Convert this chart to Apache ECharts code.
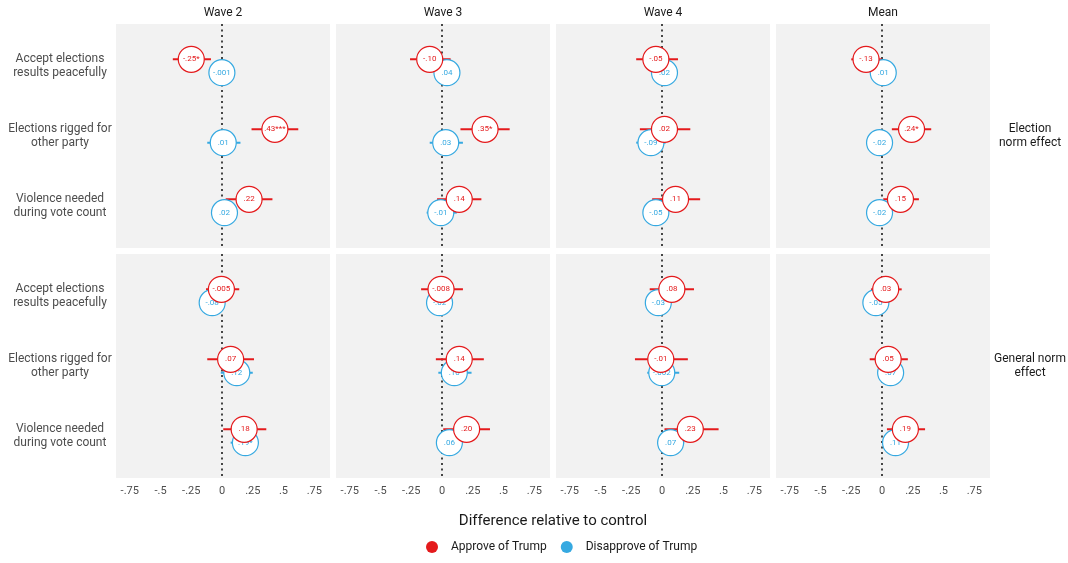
<!DOCTYPE html>
<html>
<head>
<meta charset="utf-8">
<script src="https://cdn.jsdelivr.net/npm/echarts@6/dist/echarts.min.js"></script>
<style>
  html, body { margin: 0; padding: 0; background: #fff; }
  #chart { width: 1068px; height: 563px; }
</style>
</head>
<body>
<div id="chart"></div>
<script>
// panels: columns = waves, rows = norm effect
const waves = ['Wave 2', 'Wave 3', 'Wave 4', 'Mean']
const effects = ['Election\nnorm effect', 'General norm\neffect']
const items = ['Accept elections\nresults peacefully', 'Elections rigged for\nother party', 'Violence needed\nduring vote count']
const groups = ['Approve of Trump', 'Disapprove of Trump']
const xTicks = [-0.75, -0.5, -0.25, 0, 0.25, 0.5, 0.75]
const xTickLabels = ['-.75', '-.5', '-.25', '0', '.25', '.5', '.75']

// [wave][item] = [estimate, ci low, ci high, label]
const electionApprove = [
  [[-0.25, -0.40, -0.09, '-.25*'], [0.43, 0.24, 0.62, '.43***'], [0.22, 0.03, 0.41, '.22']],
  [[-0.10, -0.26, 0.07, '-.10'], [0.35, 0.15, 0.55, '.35*'], [0.14, -0.04, 0.32, '.14']],
  [[-0.05, -0.21, 0.13, '-.05'], [0.02, -0.18, 0.23, '.02'], [0.11, -0.08, 0.31, '.11']],
  [[-0.13, -0.25, 0.00, '-.13'], [0.24, 0.08, 0.40, '.24*'], [0.15, 0.01, 0.30, '.15']],
]
const electionDisapprove = [
  [[-0.001, -0.08, 0.08, '-.001'], [0.01, -0.12, 0.15, '.01'], [0.02, -0.07, 0.11, '.02']],
  [[0.04, -0.05, 0.13, '.04'], [0.03, -0.10, 0.17, '.03'], [-0.01, -0.125, 0.12, '-.01']],
  [[0.02, -0.07, 0.11, '.02'], [-0.09, -0.21, 0.03, '-.09'], [-0.05, -0.15, 0.05, '-.05']],
  [[0.01, -0.07, 0.09, '.01'], [-0.02, -0.125, 0.08, '-.02'], [-0.02, -0.10, 0.06, '-.02']],
]
const generalApprove = [
  [[-0.005, -0.13, 0.14, '-.005'], [0.07, -0.12, 0.26, '.07'], [0.18, 0.01, 0.36, '.18']],
  [[-0.008, -0.17, 0.17, '-.008'], [0.14, -0.05, 0.34, '.14'], [0.20, 0.01, 0.39, '.20']],
  [[0.08, -0.10, 0.26, '.08'], [-0.01, -0.22, 0.21, '-.01'], [0.23, 0.02, 0.46, '.23']],
  [[0.03, -0.09, 0.16, '.03'], [0.05, -0.10, 0.21, '.05'], [0.19, 0.04, 0.35, '.19']],
]
const generalDisapprove = [
  [[-0.08, -0.16, 0.00, '-.08'], [0.12, -0.01, 0.25, '.12'], [0.19, 0.07, 0.30, '.19*']],
  [[-0.02, -0.10, 0.06, '-.02'], [0.10, -0.03, 0.24, '.10'], [0.06, -0.04, 0.15, '.06']],
  [[-0.03, -0.11, 0.05, '-.03'], [-0.002, -0.12, 0.14, '-.002'], [0.07, -0.04, 0.18, '.07']],
  [[-0.05, -0.13, 0.03, '-.05'], [0.07, -0.01, 0.15, '.07'], [0.11, 0.03, 0.19, '.11']],
]
const panelData = [[electionApprove, electionDisapprove], [generalApprove, generalDisapprove]]

const colors = ['#e41a1c', '#36a9e1']
const dodge = [-0.095, 0.095]
const font = 'Roboto'

const colLeft = [116, 336, 556, 776]
const rowTop = [24, 254]
const panelW = 214
const panelH = 224

let grids = []
let xAxes = []
let yAxes = []
let series = []
let graphics = []

for (let r = 0; r < 2; r++) {
  for (let c = 0; c < 4; c++) {
    let idx = grids.length
    grids.push({
      left: colLeft[c], top: rowTop[r], width: panelW, height: panelH,
      show: true, backgroundColor: '#f2f2f2', borderWidth: 0,
    })
    xAxes.push({
      type: 'value', gridIndex: idx, min: -0.862, max: 0.878,
      splitLine: { show: false }, axisLine: { show: false }, axisTick: { show: false },
      axisLabel: {
        show: r == 1, customValues: xTicks, margin: 8,
        formatter: (v) => xTickLabels[xTicks.findIndex(t => Math.abs(t - v) < 1e-6)],
        fontFamily: font, fontSize: 11, color: '#4d4d4d',
      },
    })
    yAxes.push({
      type: 'value', gridIndex: idx, inverse: true, min: 0.4, max: 3.6,
      splitLine: { show: false }, axisLine: { show: false }, axisTick: { show: false },
      axisLabel: {
        show: c == 0, customValues: [1, 2, 3], margin: 56, align: 'center',
        formatter: (v) => items[Math.round(v) - 1],
        fontFamily: font, fontSize: 12, color: '#4d4d4d', lineHeight: 14,
      },
    })

    // error bars (both groups) under the points
    let bars = []
    for (let g = 0; g < 2; g++) {
      let list = panelData[r][g][c]
      for (let i = 0; i < list.length; i++) {
        bars.push([list[i][1], list[i][2], i + 1 + dodge[g], g])
      }
    }
    series.push({
      type: 'custom', xAxisIndex: idx, yAxisIndex: idx, z: 1, silent: true,
      data: bars,
      encode: { x: [0, 1], y: 2 },
      renderItem: (params, api) => {
        let a = api.coord([api.value(0), api.value(2)])
        let b = api.coord([api.value(1), api.value(2)])
        return {
          type: 'line',
          shape: { x1: a[0], y1: a[1], x2: b[0], y2: b[1] },
          style: { stroke: colors[api.value(3)], lineWidth: 2 },
        }
      },
      markLine: {
        silent: true, z: 0, symbol: ['none', 'none'], label: { show: false },
        lineStyle: { color: '#333', type: [2, 3.5], width: 1.8 },
        data: [{ xAxis: 0 }],
      },
    })

    // points: blue first, red on top
    for (let g = 1; g >= 0; g--) {
      let list = panelData[r][g][c]
      series.push({
        name: groups[g],
        type: 'scatter', xAxisIndex: idx, yAxisIndex: idx, z: g == 0 ? 3 : 2, silent: true,
        symbol: 'circle', symbolSize: 26,
        itemStyle: { color: '#fff', borderColor: colors[g], borderWidth: 1.2, opacity: 1 },
        label: {
          show: true, position: 'inside', formatter: (p) => p.value[2],
          fontFamily: font, fontSize: 8, color: colors[g],
        },
        data: list.map((d, i) => [d[0], i + 1 + dodge[g], d[3]]),
      })
    }
  }
}

// strip labels
for (let c = 0; c < 4; c++) {
  graphics.push({
    type: 'text', x: colLeft[c] + panelW / 2, y: 13,
    style: { text: waves[c], font: '12px Roboto', fill: '#1a1a1a', textAlign: 'center', textVerticalAlign: 'middle' },
  })
}
for (let r = 0; r < 2; r++) {
  graphics.push({
    type: 'text', x: 1030, y: rowTop[r] + panelH / 2,
    style: { text: effects[r], font: '12px Roboto', fill: '#1a1a1a', textAlign: 'center', textVerticalAlign: 'middle', lineHeight: 14 },
  })
}
graphics.push({
  type: 'text', x: 553, y: 521,
  style: { text: 'Difference relative to control', font: '15px Roboto', fill: '#1a1a1a', textAlign: 'center', textVerticalAlign: 'middle' },
})

let myChart = echarts.init(document.getElementById('chart'))
let option = {
  animation: false,
  backgroundColor: '#fff',
  textStyle: { fontFamily: font },
  grid: grids,
  xAxis: xAxes,
  yAxis: yAxes,
  legend: {
    bottom: 5, left: 421, icon: 'circle', itemWidth: 12, itemHeight: 12, itemGap: 14,
    textStyle: { fontFamily: font, fontSize: 12, color: '#1a1a1a', padding: [0, 0, 0, 8] },
    data: [
      { name: groups[0], itemStyle: { color: colors[0], borderWidth: 0 } },
      { name: groups[1], itemStyle: { color: colors[1], borderWidth: 0 } },
    ],
    selectedMode: false,
  },
  graphic: graphics,
  series: series,
}
myChart.setOption(option)
</script>
</body>
</html>
